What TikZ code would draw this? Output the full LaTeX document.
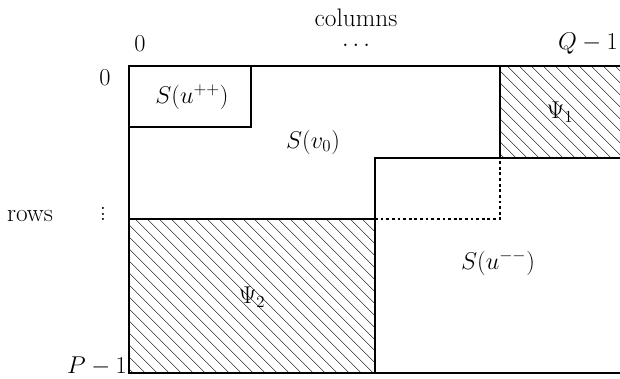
\documentclass[tikz,border=0pt]{standalone}
\usetikzlibrary{patterns.meta}
\begin{document}
\begin{tikzpicture}[
  x=0.025cm, y=-0.025cm,
  edge/.style={line width=1.1pt, draw=black},
  hatch/.style={pattern={Lines[angle=-45, distance=6.4pt, line width=0.45pt]}},
  lbl/.style={font=\fontsize{18}{21}\selectfont, inner sep=0pt},
  dotline/.style={line width=1pt, dash pattern=on 2pt off 2pt}
]
\useasboundingbox (0,0) rectangle (620,379);

% hatched blocks
\fill[hatch] (500,66) rectangle (620,158);
\fill[hatch] (129,219) rectangle (375,373);

% outer frame (right side open)
\draw[edge] (620,66) -- (129,66) -- (129,373) -- (620,373);
% S(u++) block
\draw[edge] (129,127) -- (251,127) -- (251,66);
% staircase
\draw[edge] (500,66) -- (500,158);
\draw[edge] (620,158) -- (375,158) -- (375,373);
\draw[edge] (129,219) -- (375,219);
\draw[dotline] (375,219) -- (500,219) -- (500,158);

% labels
\node[lbl] (cols) at (356,18)  {columns};
\node[lbl] (c0)   at (140,44)  {$0$};
\node[lbl] (cdot) at (356,45)  {$\dots$};
\node[lbl, anchor=base east] (cq) at (618,50) {$Q-1$};
\node[lbl] (r0)   at (105,78)  {$0$};
\node[lbl] (rows) at (30,216)  {rows};
\node[lbl] (rdot) at (103,210) {$\vdots$};
\node[lbl, anchor=base east] (rp) at (127,374) {$P-1$};
\node[lbl] (suu)  at (192,97)  {$S(u^{++})$};
\node[lbl] (sv)   at (313,142) {$S(v_0)$};
\node[lbl] (psi1) at (560,112) {$\Psi_1$};
\node[lbl] (psi2) at (252,297) {$\Psi_2$};
\node[lbl] (sum)  at (498,263) {$S(u^{--})$};
\end{tikzpicture}
\end{document}
